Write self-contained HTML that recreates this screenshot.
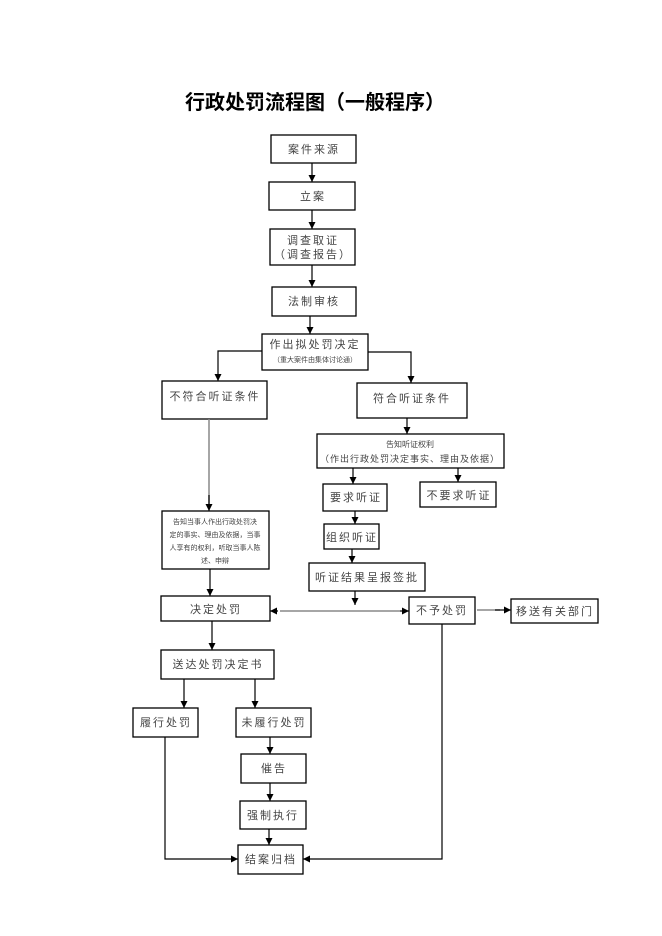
<!DOCTYPE html>
<html><head><meta charset="utf-8"><style>
html,body{margin:0;padding:0;background:#fff;}
svg{display:block;}
text{font-family:"Liberation Sans","Noto Sans CJK SC",sans-serif;fill:#444;text-anchor:middle;}
.t{font-size:11px;letter-spacing:2px;}
.s{font-size:7px;}
rect{fill:#fff;stroke:#000;stroke-width:1.3;}
.l{stroke:#000;stroke-width:1.2;fill:none;}
.g{stroke:#888;stroke-width:1.5;fill:none;}
</style></head><body>
<svg width="662" height="936" viewBox="0 0 662 936" xmlns="http://www.w3.org/2000/svg">
<defs><marker id="a" viewBox="0 0 10 10" refX="10" refY="5" markerWidth="7" markerHeight="7" orient="auto" markerUnits="userSpaceOnUse"><path d="M0,0L10,5L0,10z" fill="#000"/></marker></defs>
<text x="315" y="109" style="font-size:20px;font-weight:bold;fill:#000;font-family:'Liberation Sans','Noto Sans CJK SC',sans-serif">行政处罚流程图（一般程序）</text>

<rect x="271" y="135" width="85" height="28"/><text class="t" x="314" y="153">案件来源</text>
<rect x="269" y="182" width="86" height="28"/><text class="t" x="313" y="200">立案</text>
<rect x="270" y="229" width="85" height="36"/><text class="t" x="313" y="244">调查取证</text><text class="t" x="313" y="258">（调查报告）</text>
<rect x="272" y="287" width="84" height="29"/><text class="t" x="314" y="305">法制审核</text>
<rect x="262" y="334" width="106" height="36"/><text class="t" x="315" y="348">作出拟处罚决定</text><text class="s" x="315" y="362">（重大案件由集体讨论通）</text>
<rect x="162" y="381" width="105" height="38"/><text class="t" x="215" y="400">不符合听证条件</text>
<rect x="357" y="383" width="110" height="35"/><text class="t" x="412" y="402">符合听证条件</text>
<rect x="317" y="434" width="187" height="34"/><text class="s" x="410" y="447" style="font-size:8px">告知听证权利</text><text x="410" y="462" style="font-size:9px;letter-spacing:1px">（作出行政处罚决定事实、理由及依据）</text>
<rect x="323" y="484" width="64" height="27"/><text class="t" x="356" y="501">要求听证</text>
<rect x="420" y="482" width="76" height="25"/><text class="t" x="459" y="499">不要求听证</text>
<rect x="324" y="524" width="55" height="25"/><text class="t" x="352" y="541">组织听证</text>
<rect x="162" y="511" width="107" height="58"/>
<text class="s" x="215" y="524">告知当事人作出行政处罚决</text>
<text class="s" x="215" y="537">定的事实、理由及依据，当事</text>
<text class="s" x="215" y="550">人享有的权利，听取当事人陈</text>
<text class="s" x="215" y="563">述、申辩</text>
<rect x="309" y="563" width="116" height="28"/><text class="t" x="367" y="581">听证结果呈报签批</text>
<rect x="161" y="596" width="109" height="25"/><text class="t" x="216" y="613">决定处罚</text>
<rect x="409" y="597" width="66" height="27"/><text class="t" x="442" y="614">不予处罚</text>
<rect x="511" y="599" width="87" height="24"/><text class="t" x="555" y="615">移送有关部门</text>
<rect x="161" y="650" width="113" height="29"/><text class="t" x="218" y="668">送达处罚决定书</text>
<rect x="133" y="708" width="65" height="29"/><text class="t" x="166" y="726">履行处罚</text>
<rect x="236" y="708" width="75" height="29"/><text class="t" x="274" y="726">未履行处罚</text>
<rect x="241" y="754" width="65" height="29"/><text class="t" x="274" y="772">催告</text>
<rect x="240" y="801" width="66" height="28"/><text class="t" x="273" y="819">强制执行</text>
<rect x="238" y="845" width="65" height="29"/><text class="t" x="271" y="863">结案归档</text>

<path class="l" d="M312 163V182" marker-end="url(#a)"/>
<path class="l" d="M312 210V229" marker-end="url(#a)"/>
<path class="l" d="M312 265V287" marker-end="url(#a)"/>
<path class="l" d="M310 316V334" marker-end="url(#a)"/>
<path class="l" d="M262 351H218V381" marker-end="url(#a)"/>
<path class="l" d="M368 352H411V383" marker-end="url(#a)"/>
<path class="l" d="M407 418V434" marker-end="url(#a)"/>
<path class="l" d="M353 468V484" marker-end="url(#a)"/>
<path class="l" d="M458 468V482" marker-end="url(#a)"/>
<path class="l" d="M355 511V524" marker-end="url(#a)"/>
<path class="l" d="M352 549V563" marker-end="url(#a)"/>
<path class="l" d="M355 591V605" marker-end="url(#a)"/>
<path class="g" d="M209 419V505"/><path class="l" d="M209 495V511" marker-end="url(#a)"/>
<path class="l" d="M210 569V596" marker-end="url(#a)"/>
<path class="g" d="M280 611H400"/>
<path class="l" d="M278 611H270" marker-end="url(#a)"/>
<path class="l" d="M400 611H409" marker-end="url(#a)"/>
<path class="g" d="M477 610H500"/><path class="l" d="M495 610H511" marker-end="url(#a)"/>
<path class="l" d="M212 621V650" marker-end="url(#a)"/>
<path class="l" d="M184 679V708" marker-end="url(#a)"/>
<path class="l" d="M255 679V708" marker-end="url(#a)"/>
<path class="l" d="M270 737V754" marker-end="url(#a)"/>
<path class="l" d="M270 783V801" marker-end="url(#a)"/>
<path class="l" d="M269 829V845" marker-end="url(#a)"/>
<path class="l" d="M165 737V859H238" marker-end="url(#a)"/>
<path class="l" d="M442 624V859H303" marker-end="url(#a)"/>
</svg>
</body></html>
